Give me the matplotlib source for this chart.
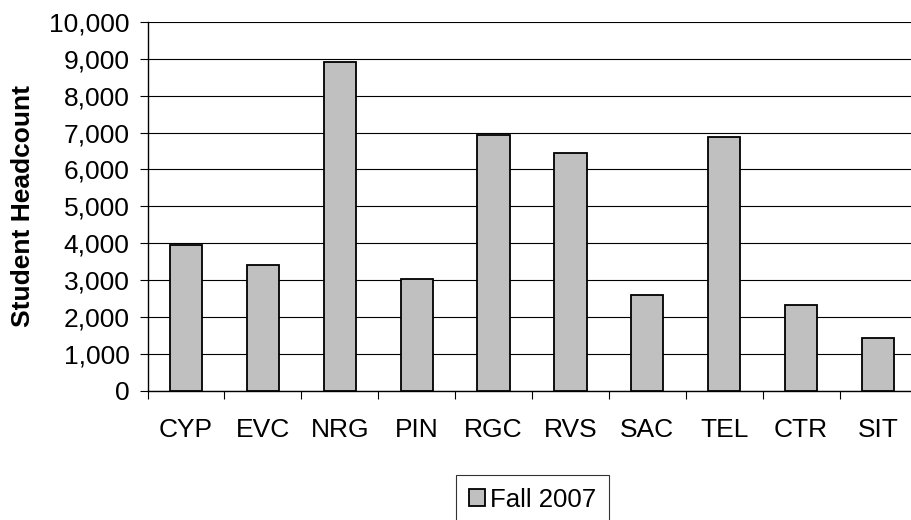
import matplotlib
matplotlib.use("Agg")
import matplotlib.pyplot as plt
from matplotlib.ticker import FuncFormatter, FixedLocator, NullFormatter
import numpy as np

categories = ["CYP", "EVC", "NRG", "PIN", "RGC", "RVS", "SAC", "TEL", "CTR", "SIT"]
headcount = [3940, 3400, 8920, 3020, 6930, 6440, 2595, 6880, 2325, 1440]
series_name = "Fall 2007"
y_label = "Student Headcount"
y_ticks = list(range(0, 10001, 1000))

plt.rcParams['font.family'] = ['Liberation Sans', 'DejaVu Sans']

fig = plt.figure(figsize=(9.11, 5.20), dpi=100)
ax = fig.add_axes([147.5 / 911, 1 - 390.7 / 520, 769 / 911, 368.7 / 520])

x = np.arange(len(categories))
ax.bar(x, headcount, width=0.42, color="#c0c0c0", edgecolor="black",
       linewidth=1.3, zorder=3, label=series_name)

ax.set_xlim(-0.5, len(categories) - 0.5)
ax.set_ylim(0, 10000)
ax.set_yticks(y_ticks)
ax.yaxis.set_major_formatter(FuncFormatter(lambda v, p: f"{int(v):,}"))
ax.yaxis.grid(True, color="black", linewidth=0.8, zorder=0)

# x ticks at category boundaries, labels at centers
ax.xaxis.set_major_locator(FixedLocator(np.arange(-0.5, len(categories), 1.0)))
ax.xaxis.set_major_formatter(NullFormatter())
ax.xaxis.set_minor_locator(FixedLocator(x))
ax.set_xticklabels(categories, minor=True)
ax.tick_params(axis="x", which="minor", length=0, pad=20, labelsize=19)
ax.tick_params(axis="x", which="major", length=6, width=0.8, direction="out")
ax.tick_params(axis="y", length=6, width=0.8, direction="out", labelsize=19, pad=7)

for s in ["top", "right"]:
    ax.spines[s].set_visible(False)
ax.spines["left"].set_linewidth(1.0)
ax.spines["bottom"].set_linewidth(1.0)

ax.set_ylabel(y_label, fontsize=19, fontweight="bold", labelpad=10)

leg = fig.legend(loc="upper center", bbox_to_anchor=(532.5 / 911, 1 - 475 / 520),
                 fontsize=18.5, frameon=True, fancybox=False, edgecolor="black",
                 handlelength=0.65, handleheight=0.65, handletextpad=0.2,
                 borderpad=0.5, borderaxespad=0)
leg.get_frame().set_linewidth(0.8)

fig.savefig("out.png", dpi=100)
